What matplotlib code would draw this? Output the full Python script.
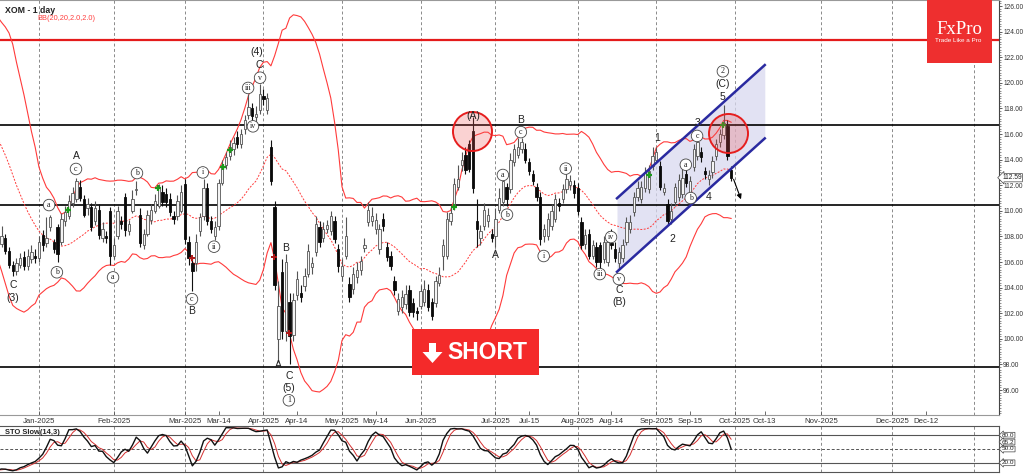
import numpy as np
import pandas as pd
import matplotlib
matplotlib.use("Agg")
import matplotlib.pyplot as plt
from matplotlib.patches import Rectangle, Polygon
from matplotlib.ticker import MultipleLocator, FormatStrFormatter

plt.rcParams['font.family'] = ['Liberation Sans', 'DejaVu Sans']

# XOM daily candles, 16 Dec 2024 .. 30 Sep 2025
open_ = [107.5, 107.4, 107.9, 106.9, 105.8, 105.3, 105.8, 106.4, 105.7, 106.2,
         106.5, 106.3, 108.1, 107.5, 108.7, 107.6, 108.7, 107.6, 109.2, 109.6,
         110.6, 110.9, 111.9, 110.9, 110.2, 110.3, 109.2, 110.1, 107.9, 108.0,
         110.0, 106.5, 108.0, 109.2, 111.1, 108.4, 110.0, 111.6, 109.7, 107.3,
         108.2, 109.3, 110.0, 110.4, 111.5, 111.3, 110.9, 109.6, 109.6, 110.0,
         112.1, 107.6, 105.9, 105.9, 108.4, 109.6, 111.8, 109.2, 108.0, 108.8,
         112.2, 113.6, 114.3, 114.8, 115.8, 115.2, 116.4, 117.5, 118.0, 117.3,
         117.9, 119.0, 117.9, 115.0, 110.3, 100.0, 105.2, 100.6, 102.9, 100.3,
         103.4, 103.6, 104.1, 105.1, 105.6, 106.8, 108.7, 107.9, 108.6, 108.4,
         109.2, 107.0, 104.9, 106.5, 104.3, 103.9, 104.8, 105.4, 107.1, 109.1,
         109.2, 108.6, 107.0, 109.4, 107.2, 106.5, 104.5, 102.2, 102.5, 102.7,
         103.8, 102.8, 102.2, 102.6, 102.9, 103.8, 102.9, 102.8, 104.4, 106.5,
         106.5, 109.2, 110.4, 111.9, 113.6, 114.4, 115.2, 116.2, 109.2, 107.9,
         108.8, 109.2, 108.2, 108.0, 110.1, 110.7, 111.9, 111.7, 113.8, 114.4,
         114.8, 114.8, 113.8, 112.9, 111.9, 111.1, 108.0, 108.0, 108.8, 109.4,
         110.6, 110.9, 111.7, 112.0, 112.0, 111.8, 109.1, 107.4, 108.2, 106.5,
         107.2, 107.3, 106.2, 106.0, 107.5, 107.0, 105.9, 106.3, 107.6, 108.6,
         109.9, 111.1, 110.9, 111.8, 111.7, 113.5, 114.0, 113.5, 111.5, 110.5,
         109.4, 110.7, 111.1, 111.3, 112.9, 111.5, 113.4, 114.3, 114.6, 113.1,
         112.5, 113.0, 114.3, 115.4, 115.9, 116.6, 113.2]
high_ = [108.8, 108.8, 108.2, 107.2, 106.1, 106.3, 106.7, 106.9, 107.0, 107.3,
         107.0, 108.0, 108.5, 109.5, 109.7, 107.8, 109.0, 109.8, 110.4, 111.2,
         111.9, 112.6, 112.4, 111.2, 111.0, 110.6, 110.8, 110.5, 109.1, 108.4,
         110.3, 107.9, 110.4, 109.6, 111.4, 109.3, 111.6, 112.3, 110.2, 108.6,
         110.1, 110.5, 111.3, 112.1, 112.0, 111.8, 111.4, 110.0, 111.2, 112.0,
         112.5, 108.0, 106.4, 108.2, 109.8, 112.5, 112.2, 109.6, 109.2, 112.5,
         114.0, 114.6, 115.5, 115.8, 116.2, 116.4, 117.5, 119.1, 118.4, 118.2,
         119.9, 119.5, 119.2, 115.5, 110.8, 104.5, 106.2, 106.6, 103.6, 103.6,
         105.3, 104.2, 105.5, 107.4, 106.4, 109.6, 109.2, 109.1, 109.3, 110.0,
         109.6, 107.4, 106.2, 109.5, 104.8, 105.6, 106.0, 106.5, 107.9, 110.7,
         110.3, 109.8, 109.0, 109.8, 107.6, 106.9, 104.9, 103.6, 103.8, 104.2,
         104.2, 103.2, 102.5, 104.2, 104.6, 104.3, 103.2, 104.9, 105.6, 107.8,
         109.9, 110.3, 112.6, 113.6, 114.6, 115.0, 115.5, 117.3, 110.9, 108.9,
         110.6, 110.2, 108.6, 110.2, 111.8, 112.8, 112.2, 114.5, 115.2, 115.7,
         115.7, 115.3, 114.1, 113.2, 112.2, 111.5, 109.0, 109.8, 110.5, 111.3,
         111.0, 112.1, 113.0, 112.8, 112.4, 112.2, 109.5, 108.6, 108.6, 107.7,
         107.6, 107.6, 108.0, 108.4, 108.6, 107.6, 107.2, 107.8, 109.5, 109.7,
         111.5, 112.3, 112.3, 113.4, 113.6, 115.0, 115.0, 113.9, 112.2, 110.9,
         110.6, 112.2, 112.9, 113.3, 113.3, 112.7, 115.2, 115.9, 115.0, 113.4,
         113.2, 114.3, 115.6, 116.4, 118.3, 117.1, 113.5]
low_ = [107.0, 107.2, 106.6, 105.5, 104.9, 105.0, 105.5, 105.4, 105.4, 105.9,
        105.9, 106.0, 106.9, 107.2, 108.4, 106.7, 106.0, 107.3, 108.8, 109.4,
        110.3, 110.7, 110.8, 109.5, 109.7, 108.4, 108.9, 107.8, 107.6, 107.5,
        105.8, 106.2, 107.8, 108.6, 108.0, 108.1, 109.8, 111.2, 107.2, 107.0,
        108.0, 109.0, 109.8, 110.2, 110.4, 110.3, 109.6, 109.0, 109.3, 109.8,
        107.4, 105.8, 103.7, 105.3, 108.0, 109.3, 108.9, 108.3, 107.7, 108.5,
        112.0, 113.3, 114.0, 114.4, 114.9, 114.9, 116.0, 117.2, 116.8, 116.6,
        117.6, 118.3, 117.6, 112.0, 103.8, 98.2, 100.0, 99.8, 98.0, 99.8,
        103.0, 102.9, 103.7, 104.8, 105.1, 106.5, 107.2, 107.6, 108.3, 108.1,
        107.5, 105.2, 104.5, 106.2, 102.9, 103.5, 104.4, 105.0, 106.8, 108.8,
        108.8, 108.2, 106.6, 108.4, 106.1, 105.4, 103.4, 101.9, 102.0, 102.3,
        101.8, 101.7, 101.5, 102.3, 102.6, 102.2, 101.5, 102.5, 104.1, 105.4,
        106.2, 108.9, 110.1, 111.6, 113.1, 112.9, 113.0, 111.4, 107.2, 107.3,
        108.5, 108.7, 107.6, 107.2, 109.8, 110.4, 110.4, 111.4, 113.5, 114.1,
        114.5, 113.7, 112.8, 112.0, 110.8, 107.3, 107.6, 107.7, 108.5, 109.1,
        110.0, 110.6, 111.4, 111.6, 111.0, 109.7, 107.0, 107.0, 106.2, 106.2,
        105.6, 105.3, 105.9, 105.7, 107.0, 106.0, 105.4, 106.0, 107.3, 108.3,
        109.6, 110.8, 110.6, 111.5, 111.4, 113.2, 113.7, 111.6, 111.2, 108.9,
        109.0, 110.4, 110.8, 111.0, 111.9, 111.1, 113.1, 114.0, 113.8, 112.5,
        112.0, 112.6, 114.0, 115.0, 115.6, 114.0, 112.3]
close_ = [108.2, 108.0, 106.9, 105.8, 105.3, 105.9, 106.3, 105.7, 106.5, 106.8,
          106.3, 107.6, 107.3, 107.9, 109.5, 107.0, 106.6, 109.4, 109.9, 110.8,
          111.4, 112.3, 111.0, 109.7, 110.5, 108.7, 110.2, 108.1, 108.6, 107.9,
          106.5, 107.3, 110.0, 109.0, 108.5, 109.0, 110.9, 111.7, 107.5, 108.2,
          109.7, 110.1, 110.8, 111.9, 110.7, 110.7, 109.9, 109.4, 110.8, 111.5,
          107.8, 106.3, 105.3, 107.6, 109.5, 111.8, 109.2, 108.6, 108.7, 112.2,
          113.6, 114.2, 115.0, 115.3, 115.2, 116.0, 117.1, 118.1, 117.4, 117.6,
          119.1, 118.7, 118.8, 112.3, 104.2, 102.6, 100.6, 106.0, 100.2, 103.0,
          104.7, 103.3, 104.9, 106.9, 105.9, 109.0, 107.6, 108.6, 108.9, 109.6,
          107.8, 105.7, 105.7, 108.0, 103.3, 105.1, 105.4, 106.1, 107.3, 110.1,
          109.6, 109.3, 108.6, 108.8, 106.4, 105.7, 103.8, 103.1, 103.3, 103.5,
          102.1, 102.1, 102.0, 103.7, 103.9, 102.5, 101.8, 104.5, 105.0, 107.3,
          109.4, 109.8, 112.1, 112.5, 114.0, 113.2, 113.3, 111.8, 108.6, 108.4,
          110.1, 109.7, 107.9, 109.4, 111.0, 112.3, 110.9, 114.0, 114.8, 115.0,
          115.4, 114.0, 113.1, 112.3, 111.1, 107.8, 108.6, 109.4, 110.0, 110.9,
          110.4, 111.7, 112.5, 112.3, 111.4, 110.0, 107.3, 108.1, 106.5, 107.3,
          106.0, 106.0, 107.6, 107.6, 107.3, 106.3, 106.8, 107.3, 109.1, 109.1,
          111.1, 111.8, 111.9, 113.0, 113.1, 114.3, 114.6, 111.9, 111.8, 109.2,
          110.0, 111.9, 112.4, 112.6, 112.2, 112.3, 114.8, 115.4, 114.2, 112.9,
          112.8, 113.9, 115.2, 116.0, 116.9, 114.3, 112.59]

# sessions before the window (18 Nov .. 13 Dec 2024), only to warm up BB and STO
hist_high = [121.5, 121.0, 121.2, 122.0, 123.0, 122.6, 120.9, 120.1, 119.4, 118.2,
             117.2, 116.0, 113.9, 112.6, 112.0, 112.1, 111.9, 111.1, 109.5]
hist_low = [119.8, 119.5, 119.8, 120.3, 121.4, 120.2, 119.3, 118.8, 117.8, 116.2,
            115.8, 113.1, 112.1, 111.1, 110.6, 110.8, 110.7, 109.0, 108.2]
hist_close = [120.9, 120.2, 120.4, 121.6, 122.4, 120.6, 119.7, 119.2, 118.0, 116.5,
              116.5, 113.5, 112.5, 111.4, 111.0, 111.5, 111.3, 109.2, 108.7]

holidays = ['2024-12-25', '2025-01-01', '2025-01-09', '2025-01-20', '2025-02-17',
            '2025-04-18', '2025-05-26', '2025-06-19', '2025-07-04', '2025-09-01',
            '2025-11-27', '2025-12-25', '2026-01-01']
tick_dates = ['2025-01-02', '2025-02-03', '2025-03-03', '2025-03-14', '2025-04-01',
              '2025-04-14', '2025-05-01', '2025-05-14', '2025-06-02', '2025-07-01',
              '2025-07-15', '2025-08-01', '2025-08-14', '2025-09-02', '2025-09-15',
              '2025-10-01', '2025-10-13', '2025-11-03', '2025-12-01', '2025-12-12']
tick_labels = ['Jan-2025', 'Feb-2025', 'Mar-2025', 'Mar-14', 'Apr-2025', 'Apr-14',
               'May-2025', 'May-14', 'Jun-2025', 'Jul-2025', 'Jul-15', 'Aug-2025',
               'Aug-14', 'Sep-2025', 'Sep-15', 'Oct-2025', 'Oct-13', 'Nov-2025',
               'Dec-2025', 'Dec-12']

black_levels = [116.7, 110.45, 97.8]
red_level = 123.35

channel_idx = [165.5, 205.0]
channel_top = [110.98, 121.39]
channel_bot = [105.24, 115.66]

highlight_idx = [126.7, 195.1]
highlight_px = [116.2, 116.1]

green_idx = [18.8, 42.8, 60.2, 62.0, 121.9, 174.0, 193.8]
green_px = [110.06, 111.78, 113.42, 114.75, 110.3, 112.8, 116.7]
red_idx = [51.9, 73.8, 77.8]
red_px = [106.3, 106.4, 100.45]

# (text, session index, price, circled)
waves = [
    ('C', 4.1, 104.2, False), ('(3)', 4.1, 103.2, False),
    ('a', 13.7, 110.45, True), ('b', 15.8, 105.2, True),
    ('c', 20.9, 113.27, True), ('A', 20.9, 114.3, False),
    ('a', 30.8, 104.8, True), ('b', 37.2, 112.95, True),
    ('c', 51.9, 103.1, True), ('B', 51.9, 102.2, False),
    ('i', 54.8, 113.0, True), ('ii', 57.8, 107.2, True),
    ('iii', 66.9, 119.6, True), ('iv', 68.2, 116.6, True), ('v', 70.1, 120.4, True),
    ('C', 69.8, 121.4, False), ('(4)', 69.3, 122.4, False),
    ('B', 77.0, 107.1, False), ('A', 74.9, 97.95, False),
    ('C', 77.8, 97.1, False), ('(5)', 77.8, 96.15, False), ('1', 77.8, 95.2, True),
    ('(A)', 127.0, 117.4, False), ('A', 133.1, 106.55, False),
    ('a', 135.0, 112.8, True), ('b', 136.1, 109.7, True),
    ('c', 139.8, 116.15, True), ('B', 139.8, 117.1, False),
    ('i', 145.9, 106.47, True), ('ii', 151.8, 113.3, True),
    ('iii', 160.9, 105.06, True), ('iv', 163.9, 107.95, True), ('v', 166.0, 104.67, True),
    ('C', 166.0, 103.8, False), ('(B)', 166.0, 102.9, False),
    ('1', 176.2, 115.7, False), ('2', 180.2, 107.8, False),
    ('a', 183.9, 113.6, True), ('b', 185.2, 111.0, True),
    ('3', 186.9, 116.9, False), ('c', 186.9, 115.85, True),
    ('4', 190.1, 111.1, False), ('5', 193.8, 118.9, False),
    ('(C)', 193.8, 119.9, False), ('2', 193.8, 120.9, True),
]

sto_levels = [80, 50, 20]
sto_last = 65.2

W, H = 1024, 474

# ---- indicators
n_hist = len(hist_close)
c_all = pd.Series(hist_close + close_)
h_all = pd.Series(hist_high + high_)
l_all = pd.Series(hist_low + low_)
x_all = np.arange(len(c_all)) - n_hist

bb_mid = c_all.rolling(20).mean()
bb_sd = c_all.rolling(20).std(ddof=0)
bb_up = bb_mid + 2 * bb_sd
bb_lo = bb_mid - 2 * bb_sd

ll = l_all.rolling(14).min()
hh = h_all.rolling(14).max()
fast_k = 100 * (c_all - ll) / (hh - ll)
slow_k = fast_k.rolling(3).mean()
slow_d = slow_k.rolling(3).mean()

dates = pd.bdate_range('2024-12-16', '2026-01-09', freq='C', holidays=holidays)
pos = {d: i for i, d in enumerate(dates)}
tick_pos = [pos[pd.Timestamp(d)] for d in tick_dates]
month_pos = [i for i in range(1, len(dates)) if dates[i].month != dates[i - 1].month]

fig = plt.figure(figsize=(W / 100, H / 100), dpi=100)
ax = fig.add_axes([0, 59 / H, 999 / W, 415 / H])
sx = fig.add_axes([0, 2 / H, 999 / W, 46 / H])

xmin, xmax = 0.59, 267.6
for a in (ax, sx):
    a.set_xlim(xmin, xmax)
    for m in month_pos:
        a.axvline(m, color='#8a8a8a', lw=0.7, ls=(0, (3, 2.5)), zorder=1)

# ---- main panel
ax.set_ylim(94.05, 126.47)

ax.axhline(red_level, color='#e41b1b', lw=1.6, zorder=2)
for lv in black_levels:
    ax.axhline(lv, color='black', lw=1.2, zorder=2)

ax.fill_between(channel_idx, channel_bot, channel_top, color='#d9d9ef', alpha=0.75, lw=0, zorder=1.5)
ax.plot(channel_idx, channel_top, color='#2a2aa0', lw=1.8, zorder=5)
ax.plot(channel_idx, channel_bot, color='#2a2aa0', lw=1.8, zorder=5)

vis = x_all >= -1
ax.plot(x_all[vis], bb_up[vis], color='#ff3b3b', lw=0.8, zorder=3)
ax.plot(x_all[vis], bb_lo[vis], color='#ff3b3b', lw=0.8, zorder=3)
ax.plot(x_all[vis], bb_mid[vis], color='#ff3b3b', lw=0.7, ls=(0, (2, 1.5)), zorder=3)

idx = np.arange(len(close_))
o = np.array(open_)
c = np.array(close_)
up = c >= o
wick_col = np.where(up, '#555555', '#111111')
ax.vlines(idx, low_, high_, colors=wick_col, lw=0.8, zorder=4)
body_lo = np.minimum(o, c)
body_h = np.maximum(np.abs(c - o), 0.07)
ax.bar(idx[up], body_h[up], bottom=body_lo[up], width=0.62, color='#f4f4f4',
       edgecolor='#555555', linewidth=0.6, zorder=4.5)
ax.bar(idx[~up], body_h[~up], bottom=body_lo[~up], width=0.62, color='#0a0a0a',
       edgecolor='#0a0a0a', linewidth=0.6, zorder=4.5)

ax.scatter(green_idx, green_px, marker='+', s=22, color='#1a9a1a', linewidths=1.6, zorder=6)
ax.scatter(red_idx, red_px, marker='+', s=22, color='#b01818', linewidths=1.4, zorder=6)

ax.scatter(highlight_idx, highlight_px, s=790, marker='o', facecolor=(0.93, 0.3, 0.3, 0.25),
           edgecolor='#e61e1e', linewidths=1.4, zorder=6)

for t, i, p, circ in waves:
    if circ:
        ax.text(i, p, t, ha='center', va='center', fontsize=5.8, family='Liberation Serif',
                color='#222222', zorder=7,
                bbox=dict(boxstyle='circle,pad=0.22', fc='white', ec='#444444', lw=0.6))
    else:
        ax.text(i, p, t, ha='center', va='center', fontsize=7.5, color='#222222', zorder=7)

ax.annotate('', xy=(198.9, 110.7), xytext=(196.4, 112.67),
            arrowprops=dict(arrowstyle='-|>', color='black', lw=0.8, mutation_scale=7), zorder=7)

ax.yaxis.tick_right()
ax.yaxis.set_major_locator(MultipleLocator(2))
ax.yaxis.set_minor_locator(MultipleLocator(0.2))
ax.yaxis.set_major_formatter(FormatStrFormatter('%.2f'))
ax.tick_params(axis='y', which='major', labelsize=4.8, length=2, width=0.6, pad=1,
               colors='#444444', labelcolor='#333333')
ax.tick_params(axis='y', which='minor', length=1.2, width=0.5, colors='#666666')
ax.set_xticks(tick_pos)
ax.set_xticklabels(tick_labels)
ax.tick_params(axis='x', direction='in', length=3, width=0.6, labelsize=5.6, pad=2.5,
               colors='#555555', labelcolor='#333333')
ax.spines['left'].set_visible(False)
ax.spines['top'].set_color('#999999')
ax.spines['bottom'].set_color('#999999')
ax.spines['right'].set_color('#444444')
for s in ax.spines.values():
    s.set_linewidth(0.8)

ax.annotate(f'{close_[-1]:.2f}', xy=(1.0, close_[-1]), xycoords=('axes fraction', 'data'),
            xytext=(2.2, 0), textcoords='offset points', ha='left', va='center', fontsize=4.8,
            color='#222222', zorder=8, annotation_clip=False,
            bbox=dict(boxstyle='larrow,pad=0.1', fc='white', ec='#444444', lw=0.5))

ax.text(0.005, 0.985, 'XOM - 1 day', transform=ax.transAxes, fontsize=6.3, fontweight='bold',
        color='#222222', ha='left', va='top')
ax.text(0.037, 0.963, 'BB(20,20,2.0,2.0)', transform=ax.transAxes, fontsize=5.3,
        color='#ff4040', ha='left', va='top')

# ---- stochastic panel
sx.set_ylim(0, 100)
sx.axhline(sto_levels[0], color='#555555', lw=0.8)
sx.axhline(sto_levels[2], color='#555555', lw=0.8)
sx.axhline(sto_levels[1], color='#555555', lw=0.7, ls=(0, (3, 2)))
sx.plot(x_all[vis], slow_d[vis], color='#d43030', lw=0.7, zorder=3)
sx.plot(x_all[vis], slow_k[vis], color='#111111', lw=1.0, zorder=4)
sx.set_xticks([])
sx.set_yticks([])
for s in sx.spines.values():
    s.set_color('#555555')
    s.set_linewidth(0.8)
sx.spines['left'].set_visible(False)
sx.text(0.005, 0.93, 'STO Slow(14,3)', transform=sx.transAxes, fontsize=5.4, fontweight='bold',
        color='#222222', ha='left', va='top')
for v in [80.0, sto_last, 50.0, 20.0]:
    sx.annotate(f'{v:.1f}', xy=(1.0, v), xycoords=('axes fraction', 'data'), xytext=(2.2, 0),
                textcoords='offset points', ha='left', va='center', fontsize=4.6,
                color='#222222', annotation_clip=False,
                bbox=dict(boxstyle='larrow,pad=0.06', fc='white', ec='#444444', lw=0.5))

# ---- FxPro badge
fig.patches.append(Rectangle((927 / W, 1 - 63 / H), 65 / W, 63 / H, transform=fig.transFigure,
                             fc='#ee2f2f', ec='none', zorder=0.5))
fig.text(959 / W, 1 - 29 / H, 'FxPro', fontsize=13.5, family='Liberation Serif', color='white',
         ha='center', va='center', zorder=0.6)
fig.text(958 / W, 1 - 41 / H, 'Trade Like a Pro', fontsize=4.6, color='white',
         ha='center', va='center', zorder=0.6)

# ---- SHORT box
fig.patches.append(Rectangle((412 / W, 1 - 375 / H), 127 / W, 46 / H, transform=fig.transFigure,
                             fc='#f42a2a', ec='none', zorder=10))
arrow_px = [(429, 343), (436, 343), (436, 352), (442.5, 352), (432.5, 363), (422.5, 352), (429, 352)]
fig.patches.append(Polygon([(x / W, 1 - y / H) for x, y in arrow_px], closed=True,
                           transform=fig.transFigure, fc='white', ec='none', zorder=11))
fig.text(487 / W, 1 - 352.5 / H, 'SHORT', fontsize=16.5, fontweight='bold', color='white',
         ha='center', va='center', zorder=12)

fig.savefig('out.png', dpi=100)
